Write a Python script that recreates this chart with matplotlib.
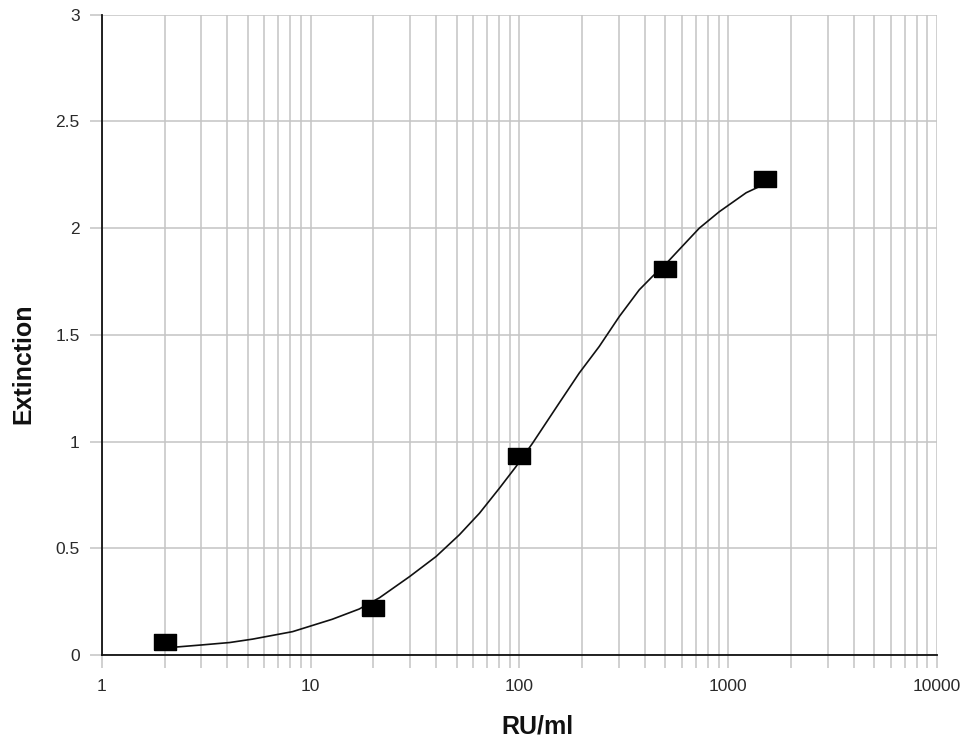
import matplotlib
matplotlib.use("Agg")
import matplotlib.pyplot as plt
from matplotlib.ticker import LogLocator, FixedLocator, FixedFormatter, NullFormatter

# standards (RU/ml) and measured extinction
std_conc = [2, 20, 100, 500, 1500]
std_ext = [0.06, 0.22, 0.93, 1.81, 2.23]

# fitted curve
curve_conc = [2.0, 2.28, 3.04, 4.1, 5.28, 8.2, 12.7, 17.1, 21.4, 29.8, 39.9, 51.6, 64.4,
              80.2, 96.4, 115.8, 155, 193.5, 241, 301, 375, 434, 500, 583, 727, 906,
              1219, 1375, 1500]
curve_ext = [0.033, 0.037, 0.047, 0.058, 0.074, 0.109, 0.167, 0.215, 0.268, 0.367, 0.461,
             0.563, 0.664, 0.781, 0.883, 0.993, 1.18, 1.321, 1.445, 1.586, 1.711, 1.774,
             1.83, 1.90, 2.0, 2.077, 2.166, 2.19, 2.21]

x_ticks = [1, 10, 100, 1000, 10000]
x_labels = ["1", "10", "100", "1000", "10000"]
y_ticks = [0, 0.5, 1, 1.5, 2, 2.5, 3]
y_labels = ["0", "0.5", "1", "1.5", "2", "2.5", "3"]

GRID = "#c4c4c4"
TXT = "#2a2a2a"

plt.rcParams["font.family"] = ["Liberation Sans", "DejaVu Sans"]

fig = plt.figure(figsize=(9.69, 7.4), dpi=100)
ax = fig.add_axes([0.105, 0.115, 0.862, 0.865])

ax.set_xscale("log")
ax.set_xlim(1, 10000)
ax.set_ylim(0, 3)

ax.xaxis.set_major_locator(FixedLocator(x_ticks))
ax.xaxis.set_major_formatter(FixedFormatter(x_labels))
ax.xaxis.set_minor_locator(LogLocator(base=10, subs=range(2, 10)))
ax.xaxis.set_minor_formatter(NullFormatter())
ax.yaxis.set_major_locator(FixedLocator(y_ticks))
ax.yaxis.set_major_formatter(FixedFormatter(y_labels))

ax.grid(True, which="both", axis="x", color=GRID, linewidth=1.1)
ax.grid(True, which="major", axis="y", color=GRID, linewidth=1.1)
ax.set_axisbelow(True)

for side in ("top", "right"):
    ax.spines[side].set_visible(False)
for side in ("left", "bottom"):
    ax.spines[side].set_color("#111111")
    ax.spines[side].set_linewidth(1.3)

ax.tick_params(axis="both", which="both", color=GRID, width=1.1, length=9,
               labelsize=12.5, labelcolor=TXT)
ax.tick_params(axis="y", pad=7)
ax.tick_params(axis="x", pad=8)

ax.plot(curve_conc, curve_ext, color="#111111", linewidth=1.2, zorder=3)

rect = [(-1, -0.74), (1, -0.74), (1, 0.74), (-1, 0.74), (-1, -0.74)]
ax.plot(std_conc, std_ext, linestyle="none", marker=rect, markersize=16.5,
        color="black", zorder=4, clip_on=False)

fig.text(537 / 969, 1 - 727 / 740, "RU/ml", fontsize=18, fontweight="bold",
         ha="center", va="center", color="#111111")
fig.text(23 / 969, 1 - 364 / 740, "Extinction", fontsize=18, fontweight="bold",
         ha="center", va="center", rotation=90, color="#111111")

fig.savefig("out.png", dpi=100, facecolor="white")
